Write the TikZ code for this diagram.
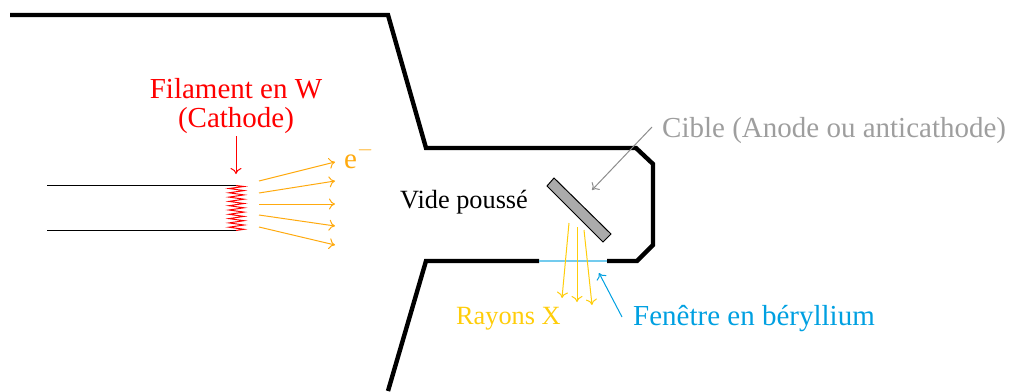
\documentclass[tikz,border=0pt]{standalone}
\usepackage{fontspec}
\setmainfont{Liberation Serif}
\definecolor{elec}{RGB}{255,170,15}
\definecolor{rayx}{RGB}{255,205,10}
\definecolor{beryl}{RGB}{0,160,225}
\usetikzlibrary{arrows.meta}
\tikzset{
 wall/.style={line width=4.4pt,line join=miter,line cap=butt},
 thinline/.style={line width=1pt},
 arr/.style={thinline,-{To[length=6pt,width=11pt]}},
 big/.style={font=\fontsize{29}{29}\selectfont,align=center,inner sep=0pt},
 mid/.style={font=\fontsize{26.3}{30}\selectfont,align=center,inner sep=0pt},
}
\begin{document}
\begin{tikzpicture}[x=1pt,y=-1pt]
\useasboundingbox (0,0) rectangle (1009,391);
% walls
\draw[wall] (10,15) -- (388,15) -- (426,148) -- (636,148) -- (653,164) -- (653,245) -- (637,261) -- (607,261);
\draw[wall] (539,261) -- (426,261) -- (388,391);
\draw[beryl!55,line width=2pt] (539,261) -- (607,261);
% filament
\draw[thinline] (47,185.5) -- (236,185.5);
\draw[thinline] (47,230.5) -- (236,230.5);
\draw[red,line width=1pt] (236,185.5) -- (244,186.5)
 \foreach \i in {0,...,9} { -- (229,{188.5+\i*4.3}) -- (244,{190.6+\i*4.3}) } -- (236,230.5);
% target
\draw[fill=black!33,line width=1pt] (547,186) -- (554,178) -- (611,234) -- (603,242) -- cycle;
% labels
\node[big,text=red] (fil) at (236,106.5) {Filament en W\\(Cathode)};
\node[big,text=elec,anchor=base west] (em) at (344,168) {e\raisebox{3pt}{$^{-}$}};
\node[mid,anchor=west] (vide) at (400,202.5) {Vide poussé};
\node[big,text=black!38,anchor=west] (cible) at (662,130.5) {Cible (Anode ou anticathode)};
\node[mid,text=rayx,anchor=west] (rx) at (456,319) {Rayons X};
\node[big,text=beryl,anchor=west] (fen) at (633,319) {Fenêtre en béryllium};
% connectors
\coordinate (filA) at (236,136); \coordinate (filB) at (236,174);
\draw[arr,red] (filA) -- (filB);
\foreach \a/\b/\c/\d in {259/181/335/162, 259/193/335/181, 259/204/335/204, 259/215/335/226, 259/227/335/245}
 \draw[arr,elec] (\a,\b) -- (\c,\d);
\coordinate (cibS) at (652,127); \coordinate (cibE) at (592,190);
\draw[arr,black!45] (cibS) -- (cibE);
\draw[arr,rayx] (569,223) -- (562,298);
\draw[arr,rayx] (577,227) -- (577,302);
\draw[arr,rayx] (584,230) -- (592,305);
\draw[arr,beryl] (622,317) -- (599,273);
\end{tikzpicture}
\end{document}
